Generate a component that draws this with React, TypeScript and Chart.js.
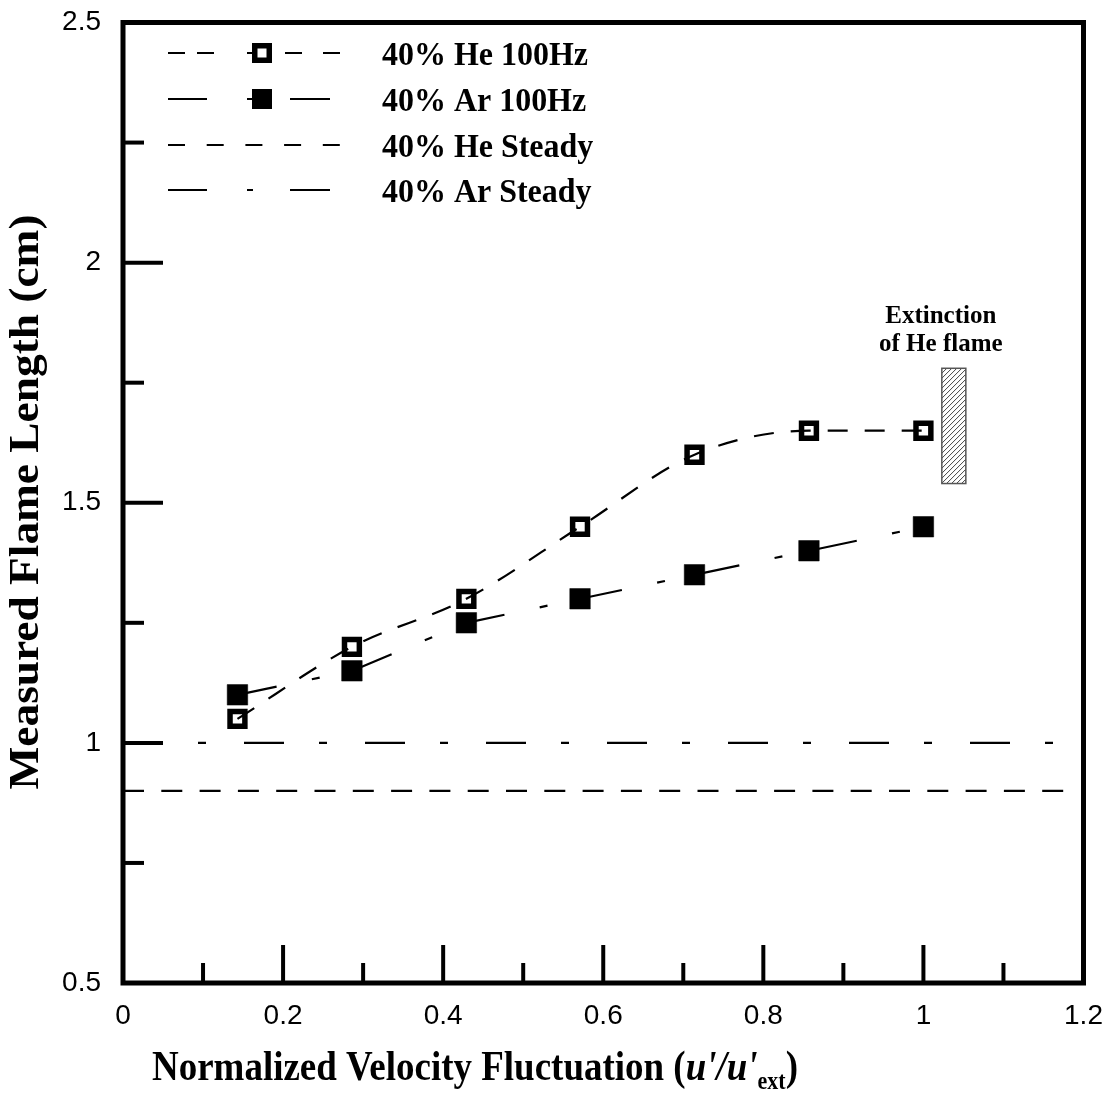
import React, { useEffect, useRef } from "react";
import { Chart, registerables } from "chart.js";

Chart.register(...registerables);

// ---------- data ----------
const fluctuation = [0.143, 0.286, 0.429, 0.571, 0.714, 0.857, 1.0];
const heFlameLength = [1.05, 1.2, 1.3, 1.45, 1.6, 1.65, 1.65];
const arFlameLength = [1.1, 1.15, 1.25, 1.3, 1.35, 1.4, 1.45];
const heSteadyX = [0, 1.175];
const heSteadyY = [0.9, 0.9];
const arSteadyX = [0, 1.2];
const arSteadyY = [1.0, 1.0];
const extinctionX = [1.023, 1.053];
const extinctionY = [1.54, 1.78];
const seriesLabels = ["40% He 100Hz", "40% Ar 100Hz", "40% He Steady", "40% Ar Steady"];
const annotationLines = ["Extinction", "of He flame"];
const xMajorTicks = [0.2, 0.4, 0.6, 0.8, 1.0];
const xMinorTicks = [0.1, 0.3, 0.5, 0.7, 0.9, 1.1];
const yMajorTicks = [1.0, 1.5, 2.0];
const yMinorTicks = [0.75, 1.25, 1.75, 2.25];
const yTitle = "Measured Flame Length (cm)";

const SERIF = '"Liberation Serif", "Times New Roman", serif';
const SANS = '"Liberation Sans", Arial, sans-serif';

const pts = (xs: number[], ys: number[]) => xs.map((x, i) => ({ x, y: ys[i] }));

const HE_DASH = [20, 17];
const AR_DASH = [40, 36, 8, 36];
const HE_STEADY_DASH = [21, 17.3];
const AR_STEADY_DASH = [40, 35, 8, 38];

function drawText(ctx: CanvasRenderingContext2D, text: string, x: number, y: number, font: string, sx: number, align: CanvasTextAlign) {
  ctx.save();
  ctx.font = font;
  ctx.translate(x, y);
  ctx.scale(sx, 1);
  ctx.textAlign = align;
  ctx.textBaseline = "alphabetic";
  ctx.fillStyle = "#000";
  ctx.fillText(text, 0, 0);
  ctx.restore();
}

const framePlugin = {
  id: "frame",
  afterDatasetsDraw(chart: any) {
    const { ctx, chartArea: a, scales } = chart;
    const xs = scales.x;
    const ys = scales.y;
    ctx.save();
    ctx.strokeStyle = "#000";
    ctx.lineCap = "butt";
    // ticks
    ctx.lineWidth = 4;
    const tick = (x1: number, y1: number, x2: number, y2: number) => {
      ctx.beginPath();
      ctx.moveTo(x1, y1);
      ctx.lineTo(x2, y2);
      ctx.stroke();
    };
    xMajorTicks.forEach((v) => { const p = xs.getPixelForValue(v); tick(p, a.bottom, p, a.bottom - 38); });
    xMinorTicks.forEach((v) => { const p = xs.getPixelForValue(v); tick(p, a.bottom, p, a.bottom - 20); });
    yMajorTicks.forEach((v) => { const p = ys.getPixelForValue(v); tick(a.left, p, a.left + 40, p); });
    yMinorTicks.forEach((v) => { const p = ys.getPixelForValue(v); tick(a.left, p, a.left + 21, p); });
    // box
    ctx.lineWidth = 5;
    ctx.lineJoin = "miter";
    ctx.strokeRect(a.left, a.top, a.right - a.left, a.bottom - a.top);

    // extinction hatched box
    const x1 = xs.getPixelForValue(extinctionX[0]);
    const x2 = xs.getPixelForValue(extinctionX[1]);
    const y1 = ys.getPixelForValue(extinctionY[1]);
    const y2 = ys.getPixelForValue(extinctionY[0]);
    ctx.fillStyle = "#fff";
    ctx.fillRect(x1, y1, x2 - x1, y2 - y1);
    ctx.save();
    ctx.beginPath();
    ctx.rect(x1, y1, x2 - x1, y2 - y1);
    ctx.clip();
    ctx.strokeStyle = "#444";
    ctx.lineWidth = 1;
    for (let s = y1 - (x2 - x1); s < y2 + (x2 - x1) + 10; s += 5) {
      ctx.beginPath();
      ctx.moveTo(x1, s + (x2 - x1));
      ctx.lineTo(x2, s);
      ctx.stroke();
    }
    ctx.restore();
    ctx.strokeStyle = "#555";
    ctx.lineWidth = 1.5;
    ctx.strokeRect(x1, y1, x2 - x1, y2 - y1);

    // annotation
    const ax = x1 - 1;
    drawText(ctx, annotationLines[0], ax, y1 - 45, `bold 25px ${SERIF}`, 1, "center");
    drawText(ctx, annotationLines[1], ax, y1 - 17, `bold 25px ${SERIF}`, 1, "center");

    // legend
    const rows = [53, 99, 145, 190];
    const sx0 = 168, sx1 = 340, mx = 262;
    const dashes = [
      [17, 12, 17, 33, 6, 32, 17, 21, 17, 100],
      [39, 40, 6, 37, 40, 100],
      [17, 21.7],
      [39, 40, 6, 37, 40, 100],
    ];
    rows.forEach((ry, i) => {
      ctx.save();
      ctx.strokeStyle = "#000";
      ctx.lineWidth = 2.2;
      ctx.setLineDash(dashes[i]);
      ctx.beginPath();
      ctx.moveTo(sx0, ry);
      ctx.lineTo(sx1, ry);
      ctx.stroke();
      ctx.setLineDash([]);
      if (i === 0) {
        ctx.fillStyle = "#000";
        ctx.fillRect(mx - 10, ry - 10, 20, 20);
        ctx.fillStyle = "#fff";
        ctx.fillRect(mx - 4.5, ry - 4.5, 9, 9);
      } else if (i === 1) {
        ctx.fillStyle = "#000";
        ctx.fillRect(mx - 10, ry - 10, 20, 20);
      }
      ctx.restore();
      drawText(ctx, seriesLabels[i], 382, ry + 12, `bold 34px ${SERIF}`, 0.94, "left");
    });

    ctx.restore();
  },
  afterDraw(chart: any) {
    const { ctx } = chart;
    // y title
    ctx.save();
    ctx.translate(38, 502);
    ctx.rotate(-Math.PI / 2);
    ctx.font = `bold 42px ${SERIF}`;
    const w = ctx.measureText(yTitle).width;
    const sx = 575 / w;
    ctx.scale(sx, 1);
    ctx.textAlign = "center";
    ctx.fillStyle = "#000";
    ctx.fillText(yTitle, 0, 0);
    ctx.restore();

    // x title (mixed fonts)
    const parts = [
      { t: "Normalized Velocity Fluctuation (", f: `bold 42px ${SERIF}`, dy: 0 },
      { t: "u'/u'", f: `italic bold 42px ${SERIF}`, dy: 0 },
      { t: "ext", f: `bold 25px ${SERIF}`, dy: 9 },
      { t: ")", f: `bold 42px ${SERIF}`, dy: 0 },
    ];
    ctx.save();
    let total = 0;
    const widths = parts.map((p) => { ctx.font = p.f; const m = ctx.measureText(p.t).width; total += m; return m; });
    const sxx = 646 / total;
    ctx.translate(152, 1080);
    ctx.scale(sxx, 1);
    ctx.fillStyle = "#000";
    ctx.textBaseline = "alphabetic";
    ctx.textAlign = "left";
    let cx = 0;
    parts.forEach((p, i) => {
      ctx.font = p.f;
      ctx.fillText(p.t, cx, p.dy);
      cx += widths[i];
    });
    ctx.restore();
  },
};

export default function App() {
  const ref = useRef<HTMLCanvasElement>(null);
  useEffect(() => {
    document.body.style.margin = "0";
    const canvas = ref.current!;
    const chart = new Chart(canvas, {
      type: "scatter",
      data: {
        datasets: [
          {
            label: "He line",
            data: pts(fluctuation, heFlameLength),
            showLine: true,
            borderColor: "#000",
            borderWidth: 2.2,
            borderDash: HE_DASH,
            cubicInterpolationMode: "monotone",
            pointRadius: 0,
            order: 0,
          },
          {
            label: seriesLabels[0],
            data: pts(fluctuation, heFlameLength),
            showLine: false,
            pointStyle: "rect",
            pointRadius: 10.5,
            pointBorderWidth: 5.5,
            pointBorderColor: "#000",
            pointBackgroundColor: "#fff",
            order: 1,
          },
          {
            label: seriesLabels[1],
            data: pts(fluctuation, arFlameLength),
            showLine: true,
            borderColor: "#000",
            borderWidth: 2.2,
            borderDash: AR_DASH,
            tension: 0,
            pointStyle: "rect",
            pointRadius: 14.5,
            pointBorderWidth: 0.5,
            pointBorderColor: "#000",
            pointBackgroundColor: "#000",
            order: 2,
          },
          {
            label: seriesLabels[2],
            data: pts(heSteadyX, heSteadyY),
            showLine: true,
            borderColor: "#000",
            borderWidth: 2.2,
            borderDash: HE_STEADY_DASH,
            pointRadius: 0,
            order: 3,
          },
          {
            label: seriesLabels[3],
            data: pts(arSteadyX, arSteadyY),
            showLine: true,
            borderColor: "#000",
            borderWidth: 2.2,
            borderDash: AR_STEADY_DASH,
            pointRadius: 0,
            order: 4,
          },
        ] as any,
      },
      options: {
        responsive: false,
        devicePixelRatio: 1,
        animation: false,
        events: [],
        layout: { padding: { left: 0, top: 22.5, right: 32.5, bottom: 0 } },
        plugins: { legend: { display: false }, tooltip: { enabled: false }, title: { display: false } },
        scales: {
          x: {
            type: "linear",
            min: 0,
            max: 1.2,
            grid: { display: false, drawTicks: false },
            border: { display: false },
            ticks: {
              stepSize: 0.2,
              color: "#000",
              padding: 16,
              maxRotation: 0,
              font: { family: SANS, size: 28 },
              callback: (v: any) => String(Math.round(Number(v) * 10) / 10),
            },
            afterFit: (s: any) => { s.height = 120; s.paddingLeft = 0; s.paddingRight = 0; },
          },
          y: {
            type: "linear",
            min: 0.5,
            max: 2.5,
            grid: { display: false, drawTicks: false },
            border: { display: false },
            ticks: {
              stepSize: 0.5,
              color: "#000",
              padding: 22,
              font: { family: SANS, size: 28 },
              callback: (v: any) => String(Math.round(Number(v) * 10) / 10),
            },
            afterFit: (s: any) => { s.width = 123; s.paddingTop = 0; s.paddingBottom = 0; },
          },
        },
      } as any,
      plugins: [framePlugin],
    });
    return () => chart.destroy();
  }, []);
  return (
    <div style={{ width: 1116, height: 1103, background: "#fff" }}>
      <canvas ref={ref} width={1116} height={1103} style={{ display: "block" }} />
    </div>
  );
}
